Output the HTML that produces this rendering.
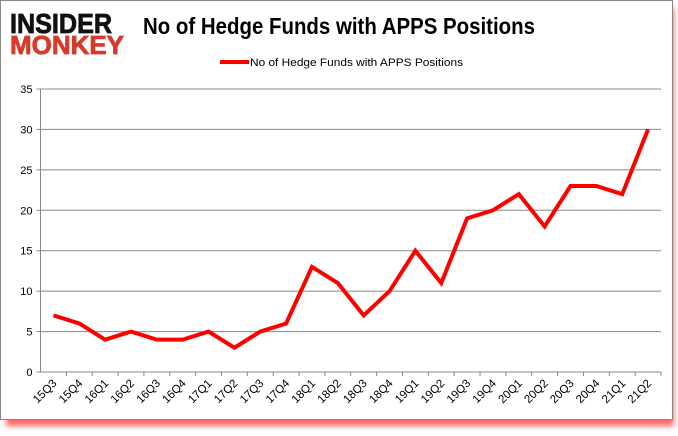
<!DOCTYPE html>
<html><head><meta charset="utf-8"><style>
body{margin:0;background:#fff;width:678px;height:431px;overflow:hidden;font-family:"Liberation Sans",sans-serif}
</style></head><body>
<svg width="678" height="431">
<defs><filter id="sh" x="-5%" y="-5%" width="110%" height="115%"><feGaussianBlur stdDeviation="3"/></filter></defs>
<rect x="6" y="8" width="668" height="418" fill="#f00" opacity="0.6" filter="url(#sh)"/>
<rect x="0.5" y="0.5" width="672" height="419" fill="#fff" stroke="#888"/>
<g>
<text x="10" y="33" font-size="28" font-weight="bold" fill="#111" textLength="102" lengthAdjust="spacingAndGlyphs" stroke="#111" stroke-width="0.8">INSIDER</text>
<text x="10" y="54" font-size="26" font-weight="bold" fill="#d63a2a" textLength="114" lengthAdjust="spacingAndGlyphs" stroke="#d63a2a" stroke-width="0.8">MONKEY</text>
</g>
<text x="143" y="34" font-size="23" font-weight="bold" fill="#000" textLength="392" lengthAdjust="spacingAndGlyphs">No of Hedge Funds with APPS Positions</text>
<g>
<line x1="220" y1="62" x2="249" y2="62" stroke="#f00" stroke-width="4"/>
<text x="250" y="66" font-size="11" fill="#000" textLength="213" lengthAdjust="spacingAndGlyphs">No of Hedge Funds with APPS Positions</text>
</g>
<g id="axes"></g>
<polyline id="line" fill="none" stroke="#f00" stroke-width="4" stroke-linejoin="miter"/>
</svg>
<script>
const categories=["15Q3","15Q4","16Q1","16Q2","16Q3","16Q4","17Q1","17Q2","17Q3","17Q4","18Q1","18Q2","18Q3","18Q4","19Q1","19Q2","19Q3","19Q4","20Q1","20Q2","20Q3","20Q4","21Q1","21Q2"];
const values=[7,6,4,5,4,4,5,3,5,6,13,11,7,10,15,11,19,20,22,18,23,23,22,30];
const yTicks=[0,5,10,15,20,25,30,35];
const X0=40.5,X1=661,Y0=372,Y1=89,YMAX=35;
const bw=(X1-X0)/categories.length;
const xs=i=>X0+bw*(i+0.5);
const ys=v=>Y0-(Y0-Y1)*v/YMAX;
const ns="http://www.w3.org/2000/svg";
const g=document.getElementById('axes');
function mk(t,a){const e=document.createElementNS(ns,t);for(const k in a)e.setAttribute(k,a[k]);g.appendChild(e);return e;}
yTicks.forEach(v=>{
 if(v>0){const l=mk('line',{x1:X0,x2:X1,y1:ys(v),y2:ys(v),stroke:'#888','stroke-width':1});
 
 }
 const tk=mk('line',{x1:X0-4,x2:X0,y1:ys(v),y2:ys(v),stroke:'#888'});
 
 
 const t=mk('text',{x:X0-8,y:ys(v)+4,'font-size':11,'text-anchor':'end',fill:'#000'});
 t.textContent=v;
 
 
});
const ya=mk('line',{x1:X0,x2:X0,y1:Y1,y2:Y0,stroke:'#888'});


const xa=mk('line',{x1:X0,x2:X1,y1:Y0,y2:Y0,stroke:'#888'});


categories.forEach((c,i)=>{
 const tx=X0+bw*(i+1);
 const tk=mk('line',{x1:tx,x2:tx,y1:Y0,y2:Y0+4,stroke:'#888'});
 
 
 const x=xs(i)+4,y=Y0+12;
 const t=mk('text',{x:x,y:y,'font-size':11.5,'text-anchor':'end',fill:'#000',transform:`rotate(-45 ${x} ${y})`});
 t.textContent=c;
 
 
});
document.getElementById('line').setAttribute('points',values.map((v,i)=>xs(i)+','+ys(v)).join(' '));
</script>
</body></html>
